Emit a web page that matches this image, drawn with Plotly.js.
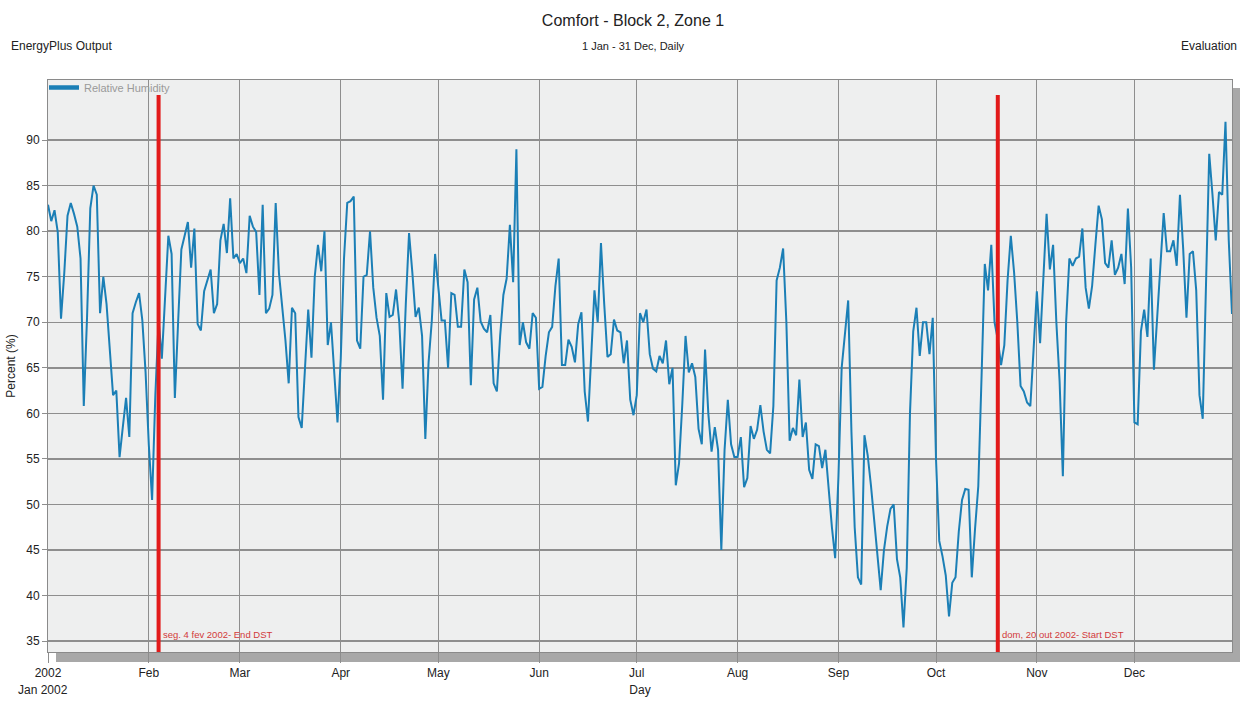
<!DOCTYPE html>
<html>
<head>
<meta charset="utf-8">
<script src="https://cdn.plot.ly/plotly-3.0.1.min.js"></script>
<style>
html,body{margin:0;padding:0;background:#ffffff;}
#chart{width:1240px;height:702px;}
</style>
</head>
<body>
<div id="chart"></div>
<script>
// Daily relative humidity (%), one array per month of 2002
const jan = [82.9,81.1,82.3,79.9,70.4,75.4,81.7,83.1,81.9,80.5,77,60.8,70.5,82.5,85,84,71,75,72,67.5,62,62.5,55.2,58.5,61.7,57.4,71,72.2,73.2,70.2,64.5];
const feb = [56.5,50.5,62,70.2,66,73,79.5,77.5,61.7,70,78,79.5,81,76,80.3,69.8,69.1,73.4,74.5,75.8,71,72,79,80.8,77.6,83.6,77,77.5];
const mar = [76.5,77,75.4,81.7,80.5,79.9,73,82.9,71,71.5,73,83.1,75.4,72,68,63.3,71.6,71,59.6,58.4,65,71.4,66.1,75,78.5,75.6,80,67.5,70,64,59];
const apr = [66,77,83.1,83.3,83.8,68,67.1,75,75.2,80,73.8,70.5,68.5,61.5,73.2,70.6,70.8,73.6,70,62.7,72,79.8,75.5,70.6,71.6,68.5,57.2,65.6,70.2,77.5];
const may = [73.8,70.2,70.2,65,73.2,73,69.5,69.5,75.8,74.4,63.1,72.5,73.8,70.1,69.3,68.9,70.8,63.3,62.4,68.5,73,74.8,80.7,74.4,89,67.5,70,67.8,67.1,71,70.5];
const jun = [62.7,62.9,66.3,68.9,69.5,74,77,65.3,65.3,68.1,67.3,65.6,69.8,71.1,62.4,59.1,65.7,73.5,70,78.7,72,66.2,66.5,70.3,69.1,68.9,65.5,68,61.5,59.8];
const jul = [62,71,70,71.4,66.5,64.9,64.6,66.3,65.5,68,63.2,65,52.1,54.5,61,68.5,64.5,65.5,64,58.3,56.6,67,60,55.8,58.5,56,45,56,61.5,56.6,55.2];
const aug = [55.2,57.4,51.9,52.9,58.6,57.2,58.2,60.9,58,56,55.6,60.8,74.6,76,78.1,70,57,58.4,57.6,63.7,57.4,59,53.8,52.8,56.6,56.4,54,56,51.5,47.5,44.1];
const sep = [53,65,68.5,72.4,58,47.5,42,41.2,57.6,55.4,52.1,48,44.3,40.6,45,47.6,49.5,50,44,42,36.5,43,60,69,71.6,66.3,70,70,66.5,70.5];
const oct = [55,46,44.3,42.2,37.7,41.4,42,47,50.5,51.7,51.6,42,47.3,52,64,76.4,73.5,78.5,70,68.1,65.3,67.5,74.6,79.5,75.5,70,63,62.4,61.2,60.8,67];
const nov = [73.4,67.7,75.4,81.9,75.8,78.5,70,63.5,53.1,70,77,76.2,77,77.2,80.3,73.8,71.5,74,78.5,82.8,81.3,76.5,76,79,75.2,76,77.5,74.2,82.5,76];
const dec = [59,58.8,69,71.4,68.4,77,64.8,70.2,75.4,82,77.8,77.8,79,76.2,84,78,70.5,77.5,77.8,73.5,62,59.4,74,88.5,84,79,84.3,84,92,79,70.9];

const monthStarts = ['2002-01-01','2002-02-01','2002-03-01','2002-04-01','2002-05-01','2002-06-01','2002-07-01','2002-08-01','2002-09-01','2002-10-01','2002-11-01','2002-12-01'];
const monthLabels = ['2002','Feb','Mar','Apr','May','Jun','Jul','Aug','Sep','Oct','Nov','Dec'];
const yTicks = [35,40,45,50,55,60,65,70,75,80,85,90];
const dstDates = ['2002-02-04','2002-10-20'];
const dstLabels = ['seg. 4 fev 2002- End DST','dom, 20 out 2002- Start DST'];
const seriesName = 'Relative Humidity';

const months = [jan,feb,mar,apr,may,jun,jul,aug,sep,oct,nov,dec];
const xs = [], ys = [];
months.forEach((arr, m) => {
  arr.forEach((v, i) => {
    const mm = String(m + 1).padStart(2, '0');
    const dd = String(i + 1).padStart(2, '0');
    xs.push('2002-' + mm + '-' + dd);
    ys.push(v);
  });
});

const FONT = '"Liberation Sans", Arial, sans-serif';
const BLUE = '#1b7fb6';
const RED = '#e21a1a';
const GRID = '#8e8e8e';
const TXT = '#222222';

// plot box in pixels: left 48, right 1232, top 80, bottom 652
const px2x = px => (px - 48) / 1184;
const py2y = py => (652 - py) / 572;

const traces = [
  {x: xs, y: ys, type: 'scatter', mode: 'lines', name: seriesName, showlegend: false,
   line: {color: BLUE, width: 2}},
  {x: [null], y: [null], type: 'scatter', mode: 'lines', name: seriesName, showlegend: true,
   line: {color: BLUE, width: 4.5}, hoverinfo: 'skip'}
];

const shapes = [
  // keep vertical gridlines out of the legend strip
  {type: 'rect', xref: 'paper', yref: 'paper', x0: 0, x1: 1, y0: py2y(95), y1: 1,
   fillcolor: '#eeefef', line: {width: 0}, layer: 'between'},
  // drop shadow
  {type: 'rect', xref: 'paper', yref: 'paper', x0: px2x(56), x1: px2x(1240), y0: py2y(662), y1: py2y(653),
   fillcolor: '#a8a8a8', line: {width: 0}, layer: 'below'},
  {type: 'rect', xref: 'paper', yref: 'paper', x0: px2x(1233), x1: px2x(1240), y0: py2y(662), y1: py2y(88),
   fillcolor: '#a8a8a8', line: {width: 0}, layer: 'below'}
];
dstDates.forEach(d => {
  shapes.push({type: 'line', xref: 'x', yref: 'paper', x0: d, x1: d, y0: 0, y1: py2y(95),
    line: {color: RED, width: 4}, layer: 'above'});
});

const annotations = [
  {text: '1 Jan - 31 Dec, Daily', xref: 'paper', yref: 'paper', x: px2x(633), y: py2y(46),
   xanchor: 'center', yanchor: 'middle', showarrow: false, font: {family: FONT, size: 11, color: TXT}},
  {text: 'EnergyPlus Output', xref: 'paper', yref: 'paper', x: px2x(9), y: py2y(46),
   xanchor: 'left', yanchor: 'middle', showarrow: false, font: {family: FONT, size: 12, color: TXT}},
  {text: 'Evaluation', xref: 'paper', yref: 'paper', x: px2x(1239), y: py2y(46),
   xanchor: 'right', yanchor: 'middle', showarrow: false, font: {family: FONT, size: 12, color: TXT}},
  {text: 'Jan 2002', xref: 'paper', yref: 'paper', x: px2x(43), y: py2y(690),
   xanchor: 'center', yanchor: 'middle', showarrow: false, font: {family: FONT, size: 12, color: TXT}}
];
dstDates.forEach((d, i) => {
  annotations.push({text: dstLabels[i], xref: 'x', yref: 'y', x: d, y: 35,
    xanchor: 'left', yanchor: 'bottom', xshift: 2, yshift: -1, showarrow: false,
    font: {family: FONT, size: 9.5, color: '#d23a3a'}});
});

const layout = {
  width: 1240, height: 702,
  margin: {l: 48, r: 8, t: 80, b: 50, pad: 0},
  paper_bgcolor: '#ffffff',
  plot_bgcolor: '#eeefef',
  font: {family: FONT, size: 12, color: TXT},
  title: {text: 'Comfort - Block 2, Zone 1', x: 633 / 1240, xref: 'container', xanchor: 'center',
          y: 1 - 20 / 702, yref: 'container', yanchor: 'middle', font: {family: FONT, size: 16, color: TXT}},
  showlegend: true,
  legend: {x: -4 / 1184, y: 1 + 7 / 572, xanchor: 'left', yanchor: 'top', bgcolor: 'rgba(0,0,0,0)', borderwidth: 0,
           font: {family: FONT, size: 11, color: '#9a9a9a'}, itemwidth: 30, tracegroupgap: 0},
  xaxis: {
    type: 'date', range: ['2002-01-01', '2002-12-31'],
    tickmode: 'array', tickvals: monthStarts, ticktext: monthLabels,
    ticks: 'outside', ticklen: 10, tickcolor: GRID, tickwidth: 1,
    showgrid: true, gridcolor: GRID, gridwidth: 1,
    showline: true, linecolor: '#8a8a8a', linewidth: 1, mirror: true,
    zeroline: false, tickfont: {family: FONT, size: 12, color: TXT},
    title: {text: 'Day', standoff: 6, font: {family: FONT, size: 12, color: TXT}}
  },
  yaxis: {
    range: [33.8, 96.6], tickmode: 'array', tickvals: yTicks,
    ticks: 'outside', ticklen: 5, tickcolor: GRID, tickwidth: 1,
    showgrid: true, gridcolor: GRID, gridwidth: 1.5,
    showline: true, linecolor: '#8a8a8a', linewidth: 1, mirror: true,
    zeroline: false, tickfont: {family: FONT, size: 12, color: TXT},
    title: {text: 'Percent (%)', standoff: 8, font: {family: FONT, size: 12, color: TXT}}
  },
  shapes: shapes,
  annotations: annotations
};

Plotly.newPlot('chart', traces, layout, {staticPlot: true, displayModeBar: false});
</script>
</body>
</html>
